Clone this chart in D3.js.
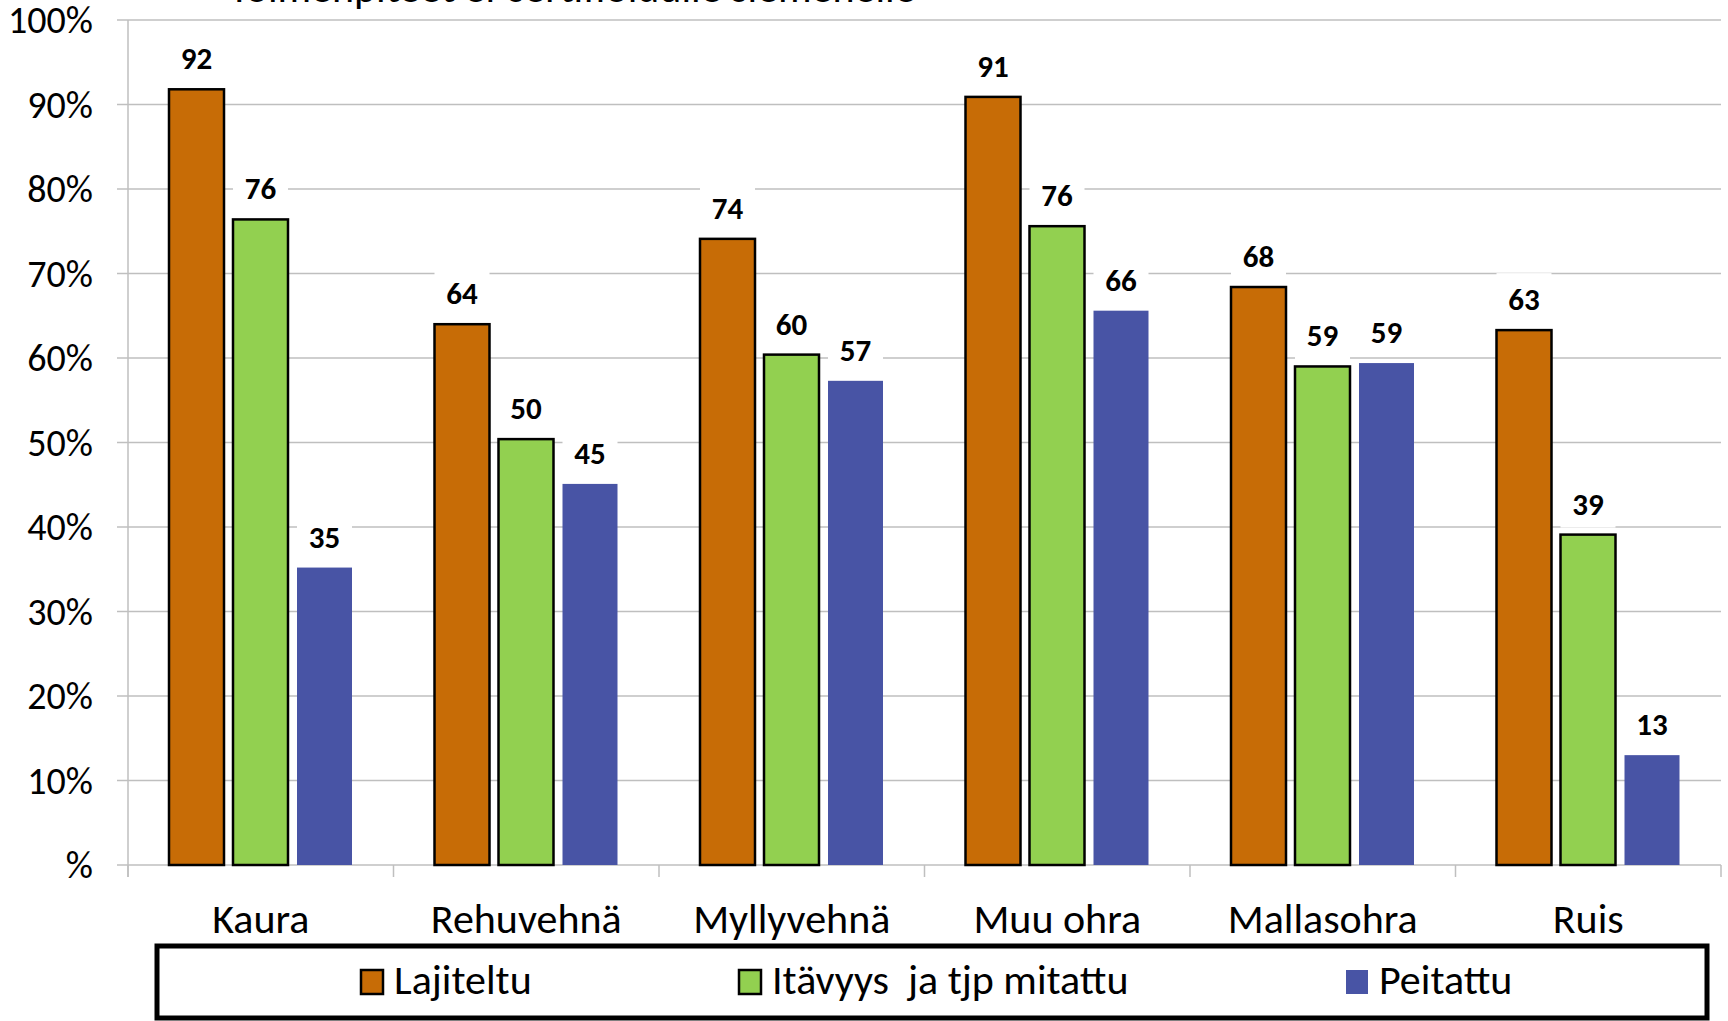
<!DOCTYPE html>
<html lang="fi">
<head>
<meta charset="utf-8" />
<title>Siemenet</title>
<script src="https://d3js.org/d3.v7.min.js"></script>
<style>
    body { margin: 0; background: #fff; }
    svg { display: block; font-family: Carlito, Lato, "Open Sans", sans-serif; }
    .grid line { stroke: #bfbfbf; stroke-width: 1.5px; }
    .axis text { fill: #000; }
    .leg text { white-space: pre; }
</style>
</head>
<body>
<svg width="1728" height="1021"></svg>
<script>
    var categories = ["Kaura", "Rehuvehnä", "Myllyvehnä", "Muu ohra", "Mallasohra", "Ruis"];
    var seriesNames = ["Lajiteltu", "Itävyys  ja tjp mitattu", "Peitattu"];
    var lajiteltu = [91.8, 64.0, 74.1, 90.9, 68.4, 63.3];
    var itavyys = [76.4, 50.4, 60.4, 75.6, 59.0, 39.1];
    var peitattu = [35.2, 45.1, 57.3, 65.6, 59.4, 13.0];
    var yTicks = [0, 10, 20, 30, 40, 50, 60, 70, 80, 90, 100];
    var colors = ["#c76c06", "#92d050", "#4854a5"];
    var titleText = "Toimenpiteet ei-sertifioidulle siemenelle";

    var svg = d3.select("svg"),
        plotLeft = 128, plotRight = 1721, plotTop = 20, plotBottom = 865;

    var series = [lajiteltu, itavyys, peitattu];
    var data = categories.map(function (c, i) {
        return { cat: c, values: series.map(function (s, k) { return { k: k, v: s[i] }; }) };
    });

    var x0 = d3.scaleBand().domain(categories).range([plotLeft, plotRight]).padding(0);
    var x1 = d3.scaleBand().domain([0, 1, 2]).range([41, 41 + 183]).paddingInner(9 / 64).paddingOuter(0);
    var y = d3.scaleLinear().domain([0, 100]).range([plotBottom, plotTop]);

    // cut-off title at the very top
    svg.append("text")
        .attr("x", 229).attr("y", 2)
        .style("font-size", "42px")
        .text(titleText);

    // gridlines + y ticks
    svg.append("g").attr("class", "grid")
        .selectAll("line").data(yTicks).enter().append("line")
        .attr("x1", plotLeft - 11).attr("x2", plotRight)
        .attr("y1", function (d) { return y(d); })
        .attr("y2", function (d) { return y(d); });

    svg.append("line")
        .attr("x1", plotLeft).attr("x2", plotLeft).attr("y1", plotTop).attr("y2", plotBottom + 12)
        .attr("stroke", "#bfbfbf").attr("stroke-width", 1.5);

    svg.append("g").attr("class", "axis")
        .selectAll("text").data(yTicks).enter().append("text")
        .attr("x", 93)
        .attr("y", function (d) { return y(d); })
        .attr("dy", "0.35em")
        .attr("text-anchor", "end")
        .style("font-size", "38px")
        .text(function (d) { return d === 0 ? "%" : d + "%"; });

    // category ticks
    var bounds = categories.map(function (c) { return x0(c); }).concat([plotRight]);
    svg.append("g").selectAll("line").data(bounds).enter().append("line")
        .attr("x1", function (d) { return d; }).attr("x2", function (d) { return d; })
        .attr("y1", plotBottom).attr("y2", plotBottom + 12)
        .attr("stroke", "#bfbfbf").attr("stroke-width", 1.5);

    svg.append("g").attr("class", "axis")
        .selectAll("text").data(categories).enter().append("text")
        .attr("x", function (d) { return x0(d) + x0.bandwidth() / 2; })
        .attr("y", 933)
        .attr("text-anchor", "middle")
        .style("font-size", "42px")
        .text(function (d) { return d; });

    // bars
    var groups = svg.selectAll(".cat").data(data).enter().append("g")
        .attr("class", "cat")
        .attr("transform", function (d) { return "translate(" + x0(d.cat) + ",0)"; });

    groups.selectAll("rect.bar").data(function (d) { return d.values; }).enter().append("rect")
        .attr("class", "bar")
        .attr("x", function (d) { return x1(d.k); })
        .attr("y", function (d) { return y(d.v); })
        .attr("width", x1.bandwidth())
        .attr("height", function (d) { return plotBottom - y(d.v); })
        .attr("fill", function (d) { return colors[d.k]; })
        .attr("stroke", function (d) { return d.k < 2 ? "#000" : "none"; })
        .attr("stroke-width", 2.5);

    // value labels with white boxes
    var labels = groups.selectAll("g.lbl").data(function (d) { return d.values; }).enter().append("g")
        .attr("class", "lbl")
        .attr("transform", function (d) { return "translate(" + x1(d.k) + "," + (y(d.v) - 20) + ")"; });

    labels.append("rect")
        .attr("x", 0).attr("y", -37)
        .attr("width", x1.bandwidth()).attr("height", 50)
        .attr("fill", "#fff");

    labels.append("text")
        .attr("x", x1.bandwidth() / 2)
        .attr("text-anchor", "middle")
        .style("font-size", "31px")
        .style("font-weight", "bold")
        .text(function (d) { return Math.round(d.v); });

    // legend
    svg.append("rect")
        .attr("x", 157).attr("y", 946).attr("width", 1550).attr("height", 72)
        .attr("fill", "#fff").attr("stroke", "#000").attr("stroke-width", 5);

    var legendX = [361, 739, 1346];
    var leg = svg.selectAll(".leg").data(seriesNames).enter().append("g")
        .attr("class", "leg")
        .attr("transform", function (d, i) { return "translate(" + legendX[i] + ",0)"; });

    leg.append("rect")
        .attr("x", 0).attr("y", 970).attr("width", 22).attr("height", 24)
        .attr("fill", function (d, i) { return colors[i]; })
        .attr("stroke", function (d, i) { return i < 2 ? "#000" : "none"; })
        .attr("stroke-width", 2.5);

    leg.append("text")
        .attr("x", 33).attr("y", 994)
        .style("font-size", "42px")
        .text(function (d) { return d; });
</script>
</body>
</html>
